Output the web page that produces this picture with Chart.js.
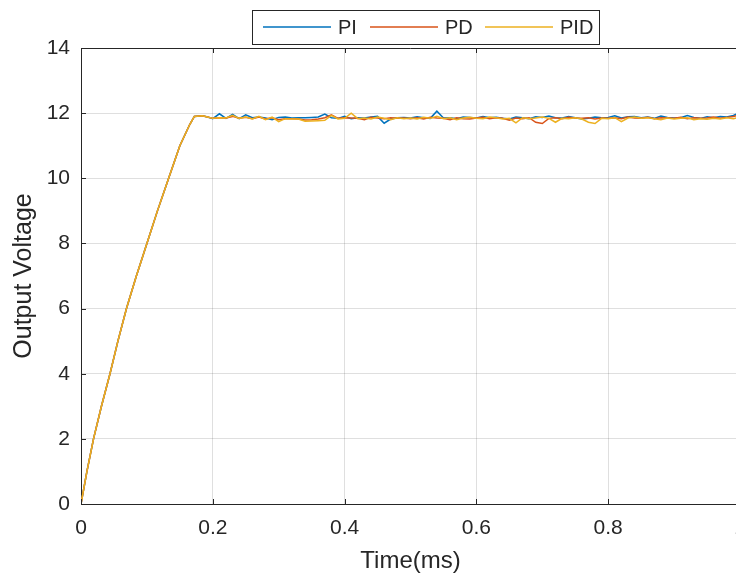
<!DOCTYPE html>
<html>
<head>
<meta charset="utf-8">
<script src="https://cdn.jsdelivr.net/npm/chart.js@4"></script>
<style>
  html, body { margin: 0; padding: 0; background: #fff; overflow: hidden; }
  #wrap { width: 780px; height: 576px; }
</style>
</head>
<body>
<div id="wrap"><canvas id="voltageChart" width="780" height="576"></canvas></div>
<script>
// rise part, shared by all three controllers
const riseTime = [0, 0.009, 0.019, 0.031, 0.044, 0.056, 0.069, 0.084, 0.100, 0.116, 0.133, 0.150, 0.165, 0.172, 0.184, 0.192];
const riseVolt = [0, 1, 2, 3, 4, 5, 6, 7, 8, 9, 10, 11, 11.65, 11.9, 11.92, 11.88];

// steady part (ms)
const steadyTime = [
    0.20, 0.21, 0.22, 0.23, 0.24, 0.25, 0.26, 0.27, 0.28, 0.29,
    0.30, 0.31, 0.32, 0.33, 0.34, 0.35, 0.36, 0.37, 0.38, 0.39,
    0.40, 0.41, 0.42, 0.43, 0.44, 0.45, 0.46, 0.47, 0.48, 0.49,
    0.50, 0.51, 0.52, 0.53, 0.54, 0.55, 0.56, 0.57, 0.58, 0.59,
    0.60, 0.61, 0.62, 0.63, 0.64, 0.65, 0.66, 0.67, 0.68, 0.69,
    0.70, 0.71, 0.72, 0.73, 0.74, 0.75, 0.76, 0.77, 0.78, 0.79,
    0.80, 0.81, 0.82, 0.83, 0.84, 0.85, 0.86, 0.87, 0.88, 0.89,
    0.90, 0.91, 0.92, 0.93, 0.94, 0.95, 0.96, 0.97, 0.98, 0.99,
    1.00
];

const piVolt = [
    11.83, 11.98, 11.84, 11.96, 11.83, 11.95, 11.86, 11.88, 11.85, 11.80,
    11.87, 11.88, 11.85, 11.86, 11.86, 11.87, 11.88, 11.97, 11.86, 11.84,
    11.90, 11.83, 11.86, 11.85, 11.88, 11.90, 11.69, 11.82, 11.86, 11.87,
    11.85, 11.89, 11.86, 11.84, 12.06, 11.85, 11.86, 11.83, 11.88, 11.87,
    11.85, 11.90, 11.86, 11.87, 11.84, 11.82, 11.88, 11.86, 11.83, 11.89,
    11.87, 11.91, 11.86, 11.85, 11.90, 11.86, 11.82, 11.84, 11.88, 11.86,
    11.87, 11.92, 11.85, 11.89, 11.90, 11.86, 11.88, 11.84, 11.91, 11.87,
    11.85, 11.86, 11.93, 11.87, 11.84, 11.89, 11.86, 11.90, 11.88, 11.93,
    12.02
];

const pdVolt = [
    11.84, 11.85, 11.85, 11.90, 11.84, 11.87, 11.83, 11.88, 11.82, 11.86,
    11.80, 11.83, 11.83, 11.82, 11.79, 11.80, 11.82, 11.86, 11.95, 11.84,
    11.86, 11.85, 11.84, 11.80, 11.87, 11.85, 11.83, 11.86, 11.84, 11.85,
    11.83, 11.86, 11.82, 11.87, 11.85, 11.84, 11.80, 11.86, 11.83, 11.82,
    11.85, 11.87, 11.83, 11.86, 11.84, 11.78, 11.85, 11.83, 11.86, 11.72,
    11.68, 11.84, 11.86, 11.83, 11.87, 11.85, 11.84, 11.86, 11.82, 11.85,
    11.84, 11.86, 11.83, 11.88, 11.85, 11.84, 11.87, 11.83, 11.86, 11.85,
    11.84, 11.87, 11.83, 11.86, 11.84, 11.85, 11.88, 11.84, 11.87, 11.90,
    11.95
];

const pidVolt = [
    11.84, 11.86, 11.85, 11.93, 11.84, 11.88, 11.82, 11.90, 11.80, 11.88,
    11.74, 11.83, 11.82, 11.82, 11.75, 11.76, 11.77, 11.78, 11.93, 11.82,
    11.84, 12.00, 11.83, 11.85, 11.82, 11.88, 11.84, 11.80, 11.86, 11.83,
    11.85, 11.82, 11.87, 11.84, 11.90, 11.83, 11.86, 11.80, 11.85, 11.87,
    11.84, 11.83, 11.88, 11.86, 11.82, 11.84, 11.70, 11.86, 11.83, 11.85,
    11.88, 11.84, 11.72, 11.84, 11.83, 11.86, 11.82, 11.72, 11.68, 11.84,
    11.83, 11.86, 11.74, 11.85, 11.88, 11.84, 11.86, 11.83, 11.80, 11.85,
    11.82, 11.84, 11.86, 11.80, 11.83, 11.81, 11.84, 11.82, 11.86, 11.83,
    11.88
];

const seriesLabels = ['PI', 'PD', 'PID'];
const seriesColors = ['#0072BD', '#D95319', '#EDB120'];

const FONT = "'Liberation Sans', Arial, Helvetica, sans-serif";
const AXIS_COLOR = '#262626';

function toPoints(steady) {
    const pts = riseTime.map((t, i) => ({ x: t, y: riseVolt[i] }));
    steadyTime.forEach((t, i) => pts.push({ x: t, y: steady[i] }));
    return pts;
}

// inner tick marks + top box line (matlab style)
const boxPlugin = {
    id: 'boxPlugin',
    afterDraw(chart) {
        const ctx = chart.ctx;
        const area = chart.chartArea;
        const xs = chart.scales.x;
        const ys = chart.scales.y;
        ctx.save();
        ctx.strokeStyle = AXIS_COLOR;
        ctx.lineWidth = 1;
        ctx.beginPath();
        ctx.moveTo(area.left, area.top + 0.5);
        ctx.lineTo(area.right, area.top + 0.5);
        xs.ticks.forEach(t => {
            const px = Math.round(xs.getPixelForValue(t.value)) + 0.5;
            ctx.moveTo(px, area.bottom);
            ctx.lineTo(px, area.bottom - 5);
            ctx.moveTo(px, area.top);
            ctx.lineTo(px, area.top + 5);
        });
        ys.ticks.forEach(t => {
            const py = Math.round(ys.getPixelForValue(t.value)) + 0.5;
            ctx.moveTo(area.left, py);
            ctx.lineTo(area.left + 5, py);
        });
        ctx.stroke();
        ctx.restore();
    }
};

// boxed legend above the axes
const legendBoxPlugin = {
    id: 'legendBox',
    afterDraw(chart) {
        const ctx = chart.ctx;
        const box = { x: 252, y: 10, w: 347, h: 34 };
        const lineStarts = [263, 370, 485];
        ctx.save();
        ctx.fillStyle = '#fff';
        ctx.fillRect(box.x, box.y, box.w, box.h);
        ctx.strokeStyle = AXIS_COLOR;
        ctx.lineWidth = 1;
        ctx.strokeRect(box.x + 0.5, box.y + 0.5, box.w, box.h);
        ctx.font = '20px ' + FONT;
        ctx.textBaseline = 'middle';
        ctx.textAlign = 'left';
        const cy = box.y + box.h / 2;
        chart.data.datasets.forEach((ds, i) => {
            const x0 = lineStarts[i];
            ctx.strokeStyle = ds.borderColor;
            ctx.lineWidth = 1.5;
            ctx.beginPath();
            ctx.moveTo(x0, cy);
            ctx.lineTo(x0 + 68, cy);
            ctx.stroke();
            ctx.fillStyle = AXIS_COLOR;
            ctx.fillText(ds.label, x0 + 75, cy + 1);
        });
        ctx.restore();
    }
};

document.addEventListener('DOMContentLoaded', function () {
    const ctx = document.getElementById('voltageChart').getContext('2d');
    const allVolts = [piVolt, pdVolt, pidVolt];

    new Chart(ctx, {
        type: 'line',
        data: {
            datasets: seriesLabels.map((label, i) => ({
                label: label,
                data: toPoints(allVolts[i]),
                borderColor: seriesColors[i],
                backgroundColor: seriesColors[i],
                borderWidth: 1.5,
                pointRadius: 0,
                tension: 0,
                fill: false,
                order: 2 - i // PID on top, like matlab
            }))
        },
        options: {
            responsive: false,
            animation: false,
            layout: { padding: { top: 48, right: 40, left: 0, bottom: 0 } },
            scales: {
                x: {
                    type: 'linear',
                    min: 0,
                    max: 1,
                    afterFit: function (scale) { scale.height = 72; },
                    ticks: {
                        stepSize: 0.2,
                        padding: 12,
                        color: AXIS_COLOR,
                        font: { family: FONT, size: 21 },
                        callback: function (value) {
                            return String(Math.round(value * 10) / 10);
                        }
                    },
                    grid: { color: 'rgba(38,38,38,0.15)', drawTicks: false },
                    border: { color: AXIS_COLOR, width: 1 },
                    title: {
                        display: true,
                        text: 'Time(ms)',
                        color: AXIS_COLOR,
                        font: { family: FONT, size: 24 },
                        padding: { top: 0, bottom: 0 }
                    }
                },
                y: {
                    min: 0,
                    max: 14,
                    afterFit: function (scale) { scale.width = 81; },
                    ticks: {
                        stepSize: 2,
                        padding: 11,
                        color: AXIS_COLOR,
                        font: { family: FONT, size: 21 }
                    },
                    grid: { color: 'rgba(38,38,38,0.15)', drawTicks: false },
                    border: { color: AXIS_COLOR, width: 1 },
                    title: {
                        display: true,
                        text: 'Output Voltage',
                        color: AXIS_COLOR,
                        font: { family: FONT, size: 25 },
                        padding: { top: 9, bottom: 0 }
                    }
                }
            },
            plugins: {
                legend: { display: false },
                tooltip: { enabled: false }
            }
        },
        plugins: [boxPlugin, legendBoxPlugin]
    });
});
</script>
</body>
</html>
